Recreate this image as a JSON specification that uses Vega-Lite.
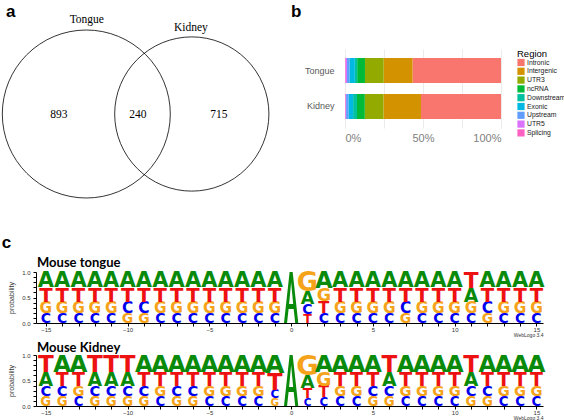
{
  "$schema": "https://vega.github.io/schema/vega-lite/v6.json",
  "padding": {"left": 0, "top": 3, "right": 0, "bottom": 0},
  "background": "white",
  "config": {"view": {"stroke": null}, "font": "Liberation Sans"},
  "datasets": {
    "venn_sets": [
      {"set": "Tongue", "n": 1133, "cx": 8.35, "cy": 0},
      {"set": "Kidney", "n": 955, "cx": 18.9, "cy": 0}
    ],
    "venn_labels": [
      {"label": "Tongue", "lx": 8.4, "ly": 9.4},
      {"label": "Kidney", "lx": 18.8, "ly": 8.6},
      {"label": "893", "lx": 5.6, "ly": -0.1},
      {"label": "240", "lx": 13.5, "ly": -0.1},
      {"label": "715", "lx": 21.6, "ly": -0.1}
    ],
    "regions": [
      {"tissue": "Tongue", "region": "Intronic", "rank": 1, "pct": 56.7},
      {"tissue": "Tongue", "region": "Intergenic", "rank": 2, "pct": 18.5},
      {"tissue": "Tongue", "region": "UTR3", "rank": 3, "pct": 12.0},
      {"tissue": "Tongue", "region": "ncRNA", "rank": 4, "pct": 5.0},
      {"tissue": "Tongue", "region": "Downstream", "rank": 5, "pct": 1.5},
      {"tissue": "Tongue", "region": "Exonic", "rank": 6, "pct": 3.5},
      {"tissue": "Tongue", "region": "Upstream", "rank": 7, "pct": 1.5},
      {"tissue": "Tongue", "region": "UTR5", "rank": 8, "pct": 1.0},
      {"tissue": "Tongue", "region": "Splicing", "rank": 9, "pct": 0.3},
      {"tissue": "Kidney", "region": "Intronic", "rank": 1, "pct": 51.3},
      {"tissue": "Kidney", "region": "Intergenic", "rank": 2, "pct": 24.0},
      {"tissue": "Kidney", "region": "UTR3", "rank": 3, "pct": 12.0},
      {"tissue": "Kidney", "region": "ncRNA", "rank": 4, "pct": 5.0},
      {"tissue": "Kidney", "region": "Downstream", "rank": 5, "pct": 2.5},
      {"tissue": "Kidney", "region": "Exonic", "rank": 6, "pct": 3.0},
      {"tissue": "Kidney", "region": "Upstream", "rank": 7, "pct": 1.5},
      {"tissue": "Kidney", "region": "UTR5", "rank": 8, "pct": 0.4},
      {"tissue": "Kidney", "region": "Splicing", "rank": 9, "pct": 0.3}
    ],
    "tongue": [
      {"pos":-15,"b":"C","p":0.20},{"pos":-15,"b":"G","p":0.22},{"pos":-15,"b":"T","p":0.28},{"pos":-15,"b":"A","p":0.30},
      {"pos":-14,"b":"C","p":0.20},{"pos":-14,"b":"G","p":0.22},{"pos":-14,"b":"T","p":0.28},{"pos":-14,"b":"A","p":0.30},
      {"pos":-13,"b":"C","p":0.20},{"pos":-13,"b":"G","p":0.22},{"pos":-13,"b":"T","p":0.28},{"pos":-13,"b":"A","p":0.30},
      {"pos":-12,"b":"C","p":0.20},{"pos":-12,"b":"G","p":0.22},{"pos":-12,"b":"T","p":0.28},{"pos":-12,"b":"A","p":0.30},
      {"pos":-11,"b":"C","p":0.20},{"pos":-11,"b":"G","p":0.22},{"pos":-11,"b":"T","p":0.28},{"pos":-11,"b":"A","p":0.30},
      {"pos":-10,"b":"G","p":0.20},{"pos":-10,"b":"C","p":0.22},{"pos":-10,"b":"T","p":0.28},{"pos":-10,"b":"A","p":0.30},
      {"pos":-9,"b":"G","p":0.20},{"pos":-9,"b":"C","p":0.22},{"pos":-9,"b":"T","p":0.28},{"pos":-9,"b":"A","p":0.30},
      {"pos":-8,"b":"C","p":0.20},{"pos":-8,"b":"G","p":0.22},{"pos":-8,"b":"T","p":0.28},{"pos":-8,"b":"A","p":0.30},
      {"pos":-7,"b":"C","p":0.20},{"pos":-7,"b":"G","p":0.22},{"pos":-7,"b":"T","p":0.28},{"pos":-7,"b":"A","p":0.30},
      {"pos":-6,"b":"C","p":0.20},{"pos":-6,"b":"G","p":0.22},{"pos":-6,"b":"T","p":0.28},{"pos":-6,"b":"A","p":0.30},
      {"pos":-5,"b":"C","p":0.20},{"pos":-5,"b":"G","p":0.22},{"pos":-5,"b":"T","p":0.28},{"pos":-5,"b":"A","p":0.30},
      {"pos":-4,"b":"C","p":0.20},{"pos":-4,"b":"G","p":0.22},{"pos":-4,"b":"T","p":0.28},{"pos":-4,"b":"A","p":0.30},
      {"pos":-3,"b":"C","p":0.20},{"pos":-3,"b":"G","p":0.22},{"pos":-3,"b":"T","p":0.28},{"pos":-3,"b":"A","p":0.30},
      {"pos":-2,"b":"C","p":0.20},{"pos":-2,"b":"G","p":0.22},{"pos":-2,"b":"T","p":0.28},{"pos":-2,"b":"A","p":0.30},
      {"pos":-1,"b":"C","p":0.20},{"pos":-1,"b":"G","p":0.22},{"pos":-1,"b":"T","p":0.28},{"pos":-1,"b":"A","p":0.30},
      {"pos":0,"b":"A","p":1.0},
      {"pos":1,"b":"T","p":0.18},{"pos":1,"b":"C","p":0.20},{"pos":1,"b":"A","p":0.25},{"pos":1,"b":"G","p":0.37},
      {"pos":2,"b":"C","p":0.20},{"pos":2,"b":"T","p":0.23},{"pos":2,"b":"G","p":0.25},{"pos":2,"b":"A","p":0.32},
      {"pos":3,"b":"C","p":0.20},{"pos":3,"b":"G","p":0.22},{"pos":3,"b":"T","p":0.28},{"pos":3,"b":"A","p":0.30},
      {"pos":4,"b":"C","p":0.20},{"pos":4,"b":"G","p":0.22},{"pos":4,"b":"T","p":0.28},{"pos":4,"b":"A","p":0.30},
      {"pos":5,"b":"C","p":0.20},{"pos":5,"b":"G","p":0.22},{"pos":5,"b":"T","p":0.28},{"pos":5,"b":"A","p":0.30},
      {"pos":6,"b":"C","p":0.20},{"pos":6,"b":"G","p":0.22},{"pos":6,"b":"T","p":0.28},{"pos":6,"b":"A","p":0.30},
      {"pos":7,"b":"G","p":0.20},{"pos":7,"b":"C","p":0.22},{"pos":7,"b":"T","p":0.28},{"pos":7,"b":"A","p":0.30},
      {"pos":8,"b":"C","p":0.20},{"pos":8,"b":"G","p":0.22},{"pos":8,"b":"T","p":0.28},{"pos":8,"b":"A","p":0.30},
      {"pos":9,"b":"C","p":0.20},{"pos":9,"b":"G","p":0.22},{"pos":9,"b":"T","p":0.28},{"pos":9,"b":"A","p":0.30},
      {"pos":10,"b":"C","p":0.20},{"pos":10,"b":"G","p":0.22},{"pos":10,"b":"T","p":0.28},{"pos":10,"b":"A","p":0.30},
      {"pos":11,"b":"C","p":0.20},{"pos":11,"b":"G","p":0.22},{"pos":11,"b":"A","p":0.27},{"pos":11,"b":"T","p":0.31},
      {"pos":12,"b":"G","p":0.20},{"pos":12,"b":"C","p":0.22},{"pos":12,"b":"T","p":0.28},{"pos":12,"b":"A","p":0.30},
      {"pos":13,"b":"C","p":0.20},{"pos":13,"b":"G","p":0.22},{"pos":13,"b":"T","p":0.28},{"pos":13,"b":"A","p":0.30},
      {"pos":14,"b":"C","p":0.20},{"pos":14,"b":"G","p":0.22},{"pos":14,"b":"T","p":0.28},{"pos":14,"b":"A","p":0.30},
      {"pos":15,"b":"C","p":0.20},{"pos":15,"b":"G","p":0.22},{"pos":15,"b":"T","p":0.28},{"pos":15,"b":"A","p":0.30}
    ],
    "kidney": [
      {"pos":-15,"b":"G","p":0.19},{"pos":-15,"b":"C","p":0.21},{"pos":-15,"b":"A","p":0.27},{"pos":-15,"b":"T","p":0.33},
      {"pos":-14,"b":"G","p":0.19},{"pos":-14,"b":"C","p":0.21},{"pos":-14,"b":"T","p":0.27},{"pos":-14,"b":"A","p":0.33},
      {"pos":-13,"b":"C","p":0.19},{"pos":-13,"b":"G","p":0.21},{"pos":-13,"b":"T","p":0.27},{"pos":-13,"b":"A","p":0.33},
      {"pos":-12,"b":"G","p":0.19},{"pos":-12,"b":"C","p":0.21},{"pos":-12,"b":"A","p":0.27},{"pos":-12,"b":"T","p":0.33},
      {"pos":-11,"b":"G","p":0.19},{"pos":-11,"b":"C","p":0.21},{"pos":-11,"b":"A","p":0.27},{"pos":-11,"b":"T","p":0.33},
      {"pos":-10,"b":"G","p":0.19},{"pos":-10,"b":"C","p":0.21},{"pos":-10,"b":"A","p":0.27},{"pos":-10,"b":"T","p":0.33},
      {"pos":-9,"b":"G","p":0.19},{"pos":-9,"b":"C","p":0.21},{"pos":-9,"b":"T","p":0.27},{"pos":-9,"b":"A","p":0.33},
      {"pos":-8,"b":"C","p":0.19},{"pos":-8,"b":"G","p":0.21},{"pos":-8,"b":"T","p":0.27},{"pos":-8,"b":"A","p":0.33},
      {"pos":-7,"b":"G","p":0.19},{"pos":-7,"b":"C","p":0.21},{"pos":-7,"b":"T","p":0.27},{"pos":-7,"b":"A","p":0.33},
      {"pos":-6,"b":"G","p":0.19},{"pos":-6,"b":"C","p":0.21},{"pos":-6,"b":"T","p":0.27},{"pos":-6,"b":"A","p":0.33},
      {"pos":-5,"b":"C","p":0.19},{"pos":-5,"b":"G","p":0.21},{"pos":-5,"b":"T","p":0.27},{"pos":-5,"b":"A","p":0.33},
      {"pos":-4,"b":"C","p":0.19},{"pos":-4,"b":"G","p":0.21},{"pos":-4,"b":"T","p":0.27},{"pos":-4,"b":"A","p":0.33},
      {"pos":-3,"b":"C","p":0.19},{"pos":-3,"b":"G","p":0.21},{"pos":-3,"b":"T","p":0.27},{"pos":-3,"b":"A","p":0.33},
      {"pos":-2,"b":"C","p":0.19},{"pos":-2,"b":"G","p":0.21},{"pos":-2,"b":"T","p":0.27},{"pos":-2,"b":"A","p":0.33},
      {"pos":-1,"b":"G","p":0.15},{"pos":-1,"b":"C","p":0.17},{"pos":-1,"b":"T","p":0.32},{"pos":-1,"b":"A","p":0.36},
      {"pos":0,"b":"A","p":1.0},
      {"pos":1,"b":"C","p":0.15},{"pos":1,"b":"T","p":0.20},{"pos":1,"b":"A","p":0.26},{"pos":1,"b":"G","p":0.39},
      {"pos":2,"b":"C","p":0.17},{"pos":2,"b":"T","p":0.22},{"pos":2,"b":"G","p":0.27},{"pos":2,"b":"A","p":0.34},
      {"pos":3,"b":"C","p":0.19},{"pos":3,"b":"G","p":0.21},{"pos":3,"b":"T","p":0.27},{"pos":3,"b":"A","p":0.33},
      {"pos":4,"b":"C","p":0.19},{"pos":4,"b":"G","p":0.21},{"pos":4,"b":"T","p":0.27},{"pos":4,"b":"A","p":0.33},
      {"pos":5,"b":"G","p":0.19},{"pos":5,"b":"C","p":0.21},{"pos":5,"b":"T","p":0.27},{"pos":5,"b":"A","p":0.33},
      {"pos":6,"b":"G","p":0.19},{"pos":6,"b":"C","p":0.21},{"pos":6,"b":"A","p":0.27},{"pos":6,"b":"T","p":0.33},
      {"pos":7,"b":"C","p":0.19},{"pos":7,"b":"G","p":0.21},{"pos":7,"b":"T","p":0.27},{"pos":7,"b":"A","p":0.33},
      {"pos":8,"b":"C","p":0.19},{"pos":8,"b":"G","p":0.21},{"pos":8,"b":"T","p":0.27},{"pos":8,"b":"A","p":0.33},
      {"pos":9,"b":"C","p":0.19},{"pos":9,"b":"G","p":0.21},{"pos":9,"b":"T","p":0.27},{"pos":9,"b":"A","p":0.33},
      {"pos":10,"b":"C","p":0.19},{"pos":10,"b":"G","p":0.21},{"pos":10,"b":"T","p":0.27},{"pos":10,"b":"A","p":0.33},
      {"pos":11,"b":"G","p":0.19},{"pos":11,"b":"C","p":0.21},{"pos":11,"b":"A","p":0.27},{"pos":11,"b":"T","p":0.33},
      {"pos":12,"b":"G","p":0.19},{"pos":12,"b":"C","p":0.21},{"pos":12,"b":"T","p":0.27},{"pos":12,"b":"A","p":0.33},
      {"pos":13,"b":"C","p":0.19},{"pos":13,"b":"G","p":0.21},{"pos":13,"b":"T","p":0.27},{"pos":13,"b":"A","p":0.33},
      {"pos":14,"b":"C","p":0.19},{"pos":14,"b":"G","p":0.21},{"pos":14,"b":"T","p":0.27},{"pos":14,"b":"A","p":0.33},
      {"pos":15,"b":"C","p":0.19},{"pos":15,"b":"G","p":0.21},{"pos":15,"b":"T","p":0.27},{"pos":15,"b":"A","p":0.33}
    ]
  },
  "bounds": "flush",
  "spacing": 223,
  "resolve": {"scale": {"color": "independent", "size": "independent"}, "legend": {"color": "independent", "size": "independent"}},
  "vconcat": [
    {
      "hconcat": [
        {
          "width": 257,
          "height": 79,
          "title": {"text": "a", "anchor": "start", "frame": "group", "font": "Liberation Sans", "fontSize": 17, "fontWeight": "bold", "color": "black", "baseline": "alphabetic", "offset": -20, "dx": -30},
          "layer": [
            {
              "data": {"name": "venn_sets"},
              "mark": {"type": "point", "shape": "circle", "filled": false, "stroke": "black", "strokeWidth": 0.8, "opacity": 1},
              "encoding": {
                "x": {"field": "cx", "type": "quantitative", "scale": {"domain": [3.32, 29.02], "nice": false, "zero": false}, "axis": null},
                "y": {"field": "cy", "type": "quantitative", "scale": {"domain": [-1.4, 6.5], "nice": false, "zero": false}, "axis": null},
                "size": {"field": "n", "type": "quantitative", "scale": {"domain": [0, 1133], "range": [0, 28224]}, "legend": null}
              }
            },
            {
              "data": {"name": "venn_labels"},
              "mark": {"type": "text", "font": "Liberation Serif", "fontSize": 11.5, "baseline": "middle", "align": "center", "color": "black"},
              "encoding": {
                "x": {"field": "lx", "type": "quantitative"},
                "y": {"field": "ly", "type": "quantitative"},
                "text": {"field": "label"}
              }
            }
          ]
        },
        {
          "width": 156,
          "height": 79,
          "title": {"text": "b", "anchor": "start", "frame": "group", "font": "Liberation Sans", "fontSize": 17, "fontWeight": "bold", "color": "black", "baseline": "alphabetic", "offset": 15, "dx": -54},
          "data": {"name": "regions"},
          "mark": {"type": "bar"},
          "encoding": {
            "y": {"field": "tissue", "type": "nominal", "sort": ["Tongue", "Kidney"], "scale": {"paddingInner": 0.305, "paddingOuter": 0.25},
                  "axis": {"title": null, "ticks": false, "domain": false, "labelFontSize": 9, "labelColor": "#5a5a5a", "labelPadding": 11}},
            "x": {"field": "pct", "type": "quantitative", "stack": "normalize", "scale": {"domain": [0, 1], "nice": false},
                  "axis": {"title": null, "format": ".0%", "values": [0, 0.25, 0.5, 0.75, 1], "ticks": false, "domain": false, "labelFontSize": 11, "labelColor": "#808080", "grid": true, "gridColor": "#ebebeb", "labelPadding": 4}},
            "color": {"field": "region", "type": "nominal",
                      "scale": {"domain": ["Intronic", "Intergenic", "UTR3", "ncRNA", "Downstream", "Exonic", "Upstream", "UTR5", "Splicing"],
                                "range": ["#F8766D", "#D39200", "#93AA00", "#00BA38", "#00C19F", "#00B9E3", "#619CFF", "#DB72FB", "#FF61C3"]},
                      "legend": {"title": "Region", "titleFontSize": 9.5, "titleFontWeight": "normal", "titleColor": "black", "titlePadding": 0,
                                 "labelFontSize": 6.8, "labelColor": "#1a1a1a", "symbolType": "square", "symbolSize": 52, "symbolStrokeWidth": 0, "symbolOpacity": 1,
                                 "rowPadding": 0.8, "offset": 16, "padding": 0, "labelOffset": 2}},
            "order": {"field": "rank", "type": "quantitative", "sort": "descending"}
          }
        }
      ],
      "spacing": 52,
      "bounds": "flush",
      "resolve": {"scale": {"color": "independent", "size": "independent"}, "legend": {"color": "independent", "size": "independent"}}
    },
    {
      "title": {"text": "c", "anchor": "start", "font": "Liberation Sans", "fontSize": 17, "fontWeight": "bold", "color": "black", "baseline": "alphabetic", "offset": -7.5, "dx": -6},
      "spacing": 32,
      "bounds": "flush",
      "vconcat": [
        {
          "width": 507,
          "height": 51,
          "title": {"text": "Mouse tongue", "anchor": "start", "frame": "group", "font": "Lato", "fontSize": 13, "fontWeight": "bold", "color": "black", "baseline": "alphabetic", "offset": -11, "dx": 1},
          "data": {"name": "tongue"},
          "transform": [{"stack": "p", "groupby": ["pos"], "sort": [{"field": "p", "order": "ascending"}], "as": ["y0", "y1"]}],
          "encoding": {
            "x": {"field": "pos", "type": "quantitative", "scale": {"domain": [-15.6, 15.4], "nice": false, "zero": false},
                  "axis": {"values": [-15,-14,-13,-12,-11,-10,-9,-8,-7,-6,-5,-4,-3,-2,-1,0,1,2,3,4,5,6,7,8,9,10,11,12,13,14,15],
                           "labelExpr": "datum.value % 5 === 0 ? datum.label : ''", "labelFontSize": 6, "labelColor": "#333333", "tickSize": 3, "tickColor": "black", "domainColor": "black", "grid": false, "labelPadding": 0,
                           "title": "WebLogo 3.4", "titleFontSize": 5, "titleFontWeight": "normal", "titleColor": "#333333", "titleAnchor": "end", "titleAlign": "right", "titlePadding": 0}},
            "y": {"field": "y0", "type": "quantitative", "scale": {"domain": [0, 1], "nice": false},
                  "axis": {"values": [0, 0.1, 0.2, 0.3, 0.4, 0.5, 0.6, 0.7, 0.8, 0.9, 1], "labelExpr": "datum.value === 0 || datum.value === 0.5 || datum.value === 1 ? format(datum.value, '.1f') : ''",
                           "labelFontSize": 6, "labelColor": "#333333", "tickSize": 3, "tickColor": "black", "domainColor": "black", "grid": false, "labelPadding": 3,
                           "title": "probability", "titleFontSize": 7, "titleFontWeight": "normal", "titleColor": "#333333", "titlePadding": 7}},
            "color": {"field": "b", "type": "nominal", "scale": {"domain": ["A", "C", "G", "T"], "range": ["#0a8a0a", "#0000ee", "#f5a31a", "#ee1111"]}, "legend": null}
          },
          "layer": [
            {
              "transform": [{"filter": "datum.p < 0.9"}],
              "mark": {"type": "text", "baseline": "alphabetic", "align": "center", "font": "DejaVu Sans", "fontWeight": "bold"},
              "encoding": {
                "text": {"field": "b"},
                "size": {"field": "p", "type": "quantitative", "scale": {"domain": [0, 1], "range": [0, 70]}, "legend": null}
              }
            },
            {
              "transform": [{"filter": "datum.p >= 0.9"}],
              "mark": {"type": "point", "shape": "M-0.28,0L-0.06,-2L0.06,-2L0.28,0L0.16,0L0.1,-0.55L-0.1,-0.55L-0.16,0Z M-0.08,-0.75L0.08,-0.75L0,-1.6Z", "filled": true, "size": 2601, "opacity": 1, "strokeWidth": 0}
            }
          ]
        },
        {
          "width": 507,
          "height": 51,
          "title": {"text": "Mouse Kidney", "anchor": "start", "frame": "group", "font": "Lato", "fontSize": 13, "fontWeight": "bold", "color": "black", "baseline": "alphabetic", "offset": -13, "dx": 1},
          "data": {"name": "kidney"},
          "transform": [{"stack": "p", "groupby": ["pos"], "sort": [{"field": "p", "order": "ascending"}], "as": ["y0", "y1"]}],
          "encoding": {
            "x": {"field": "pos", "type": "quantitative", "scale": {"domain": [-15.6, 15.4], "nice": false, "zero": false},
                  "axis": {"values": [-15,-14,-13,-12,-11,-10,-9,-8,-7,-6,-5,-4,-3,-2,-1,0,1,2,3,4,5,6,7,8,9,10,11,12,13,14,15],
                           "labelExpr": "datum.value % 5 === 0 ? datum.label : ''", "labelFontSize": 6, "labelColor": "#333333", "tickSize": 3, "tickColor": "black", "domainColor": "black", "grid": false, "labelPadding": 0,
                           "title": "WebLogo 3.4", "titleFontSize": 5, "titleFontWeight": "normal", "titleColor": "#333333", "titleAnchor": "end", "titleAlign": "right", "titlePadding": 0}},
            "y": {"field": "y0", "type": "quantitative", "scale": {"domain": [0, 1], "nice": false},
                  "axis": {"values": [0, 0.1, 0.2, 0.3, 0.4, 0.5, 0.6, 0.7, 0.8, 0.9, 1], "labelExpr": "datum.value === 0 || datum.value === 0.5 || datum.value === 1 ? format(datum.value, '.1f') : ''",
                           "labelFontSize": 6, "labelColor": "#333333", "tickSize": 3, "tickColor": "black", "domainColor": "black", "grid": false, "labelPadding": 3,
                           "title": "probability", "titleFontSize": 7, "titleFontWeight": "normal", "titleColor": "#333333", "titlePadding": 7}},
            "color": {"field": "b", "type": "nominal", "scale": {"domain": ["A", "C", "G", "T"], "range": ["#0a8a0a", "#0000ee", "#f5a31a", "#ee1111"]}, "legend": null}
          },
          "layer": [
            {
              "transform": [{"filter": "datum.p < 0.9"}],
              "mark": {"type": "text", "baseline": "alphabetic", "align": "center", "font": "DejaVu Sans", "fontWeight": "bold"},
              "encoding": {
                "text": {"field": "b"},
                "size": {"field": "p", "type": "quantitative", "scale": {"domain": [0, 1], "range": [0, 70]}, "legend": null}
              }
            },
            {
              "transform": [{"filter": "datum.p >= 0.9"}],
              "mark": {"type": "point", "shape": "M-0.28,0L-0.06,-2L0.06,-2L0.28,0L0.16,0L0.1,-0.55L-0.1,-0.55L-0.16,0Z M-0.08,-0.75L0.08,-0.75L0,-1.6Z", "filled": true, "size": 2601, "opacity": 1, "strokeWidth": 0}
            }
          ]
        }
      ]
    }
  ]
}
